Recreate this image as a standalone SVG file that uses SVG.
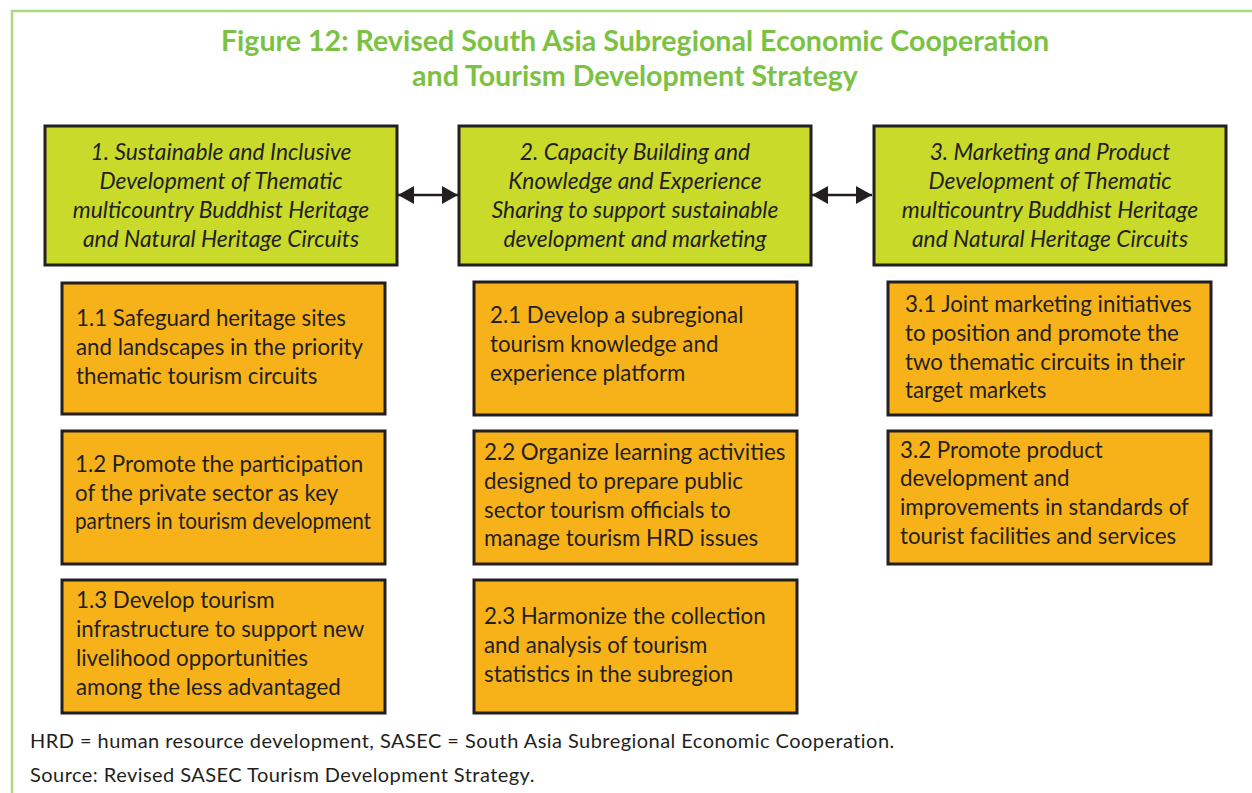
<svg xmlns="http://www.w3.org/2000/svg" width="1252" height="793" viewBox="0 0 1252 793">
<defs>
<style>
.frame{fill:none;stroke:#a9d97c;stroke-width:2.5}
.title{font-family:Lato,"Open Sans",sans-serif;font-weight:bold;font-size:28.6px;fill:#7cc242;text-anchor:middle}
.hbox{fill:#c9da2a;stroke:#231f20;stroke-width:3}
.obox{fill:#f8b219;stroke:#231f20;stroke-width:3}
.ht{font-family:Lato,"Open Sans",sans-serif;font-style:italic;font-size:22.8px;fill:#231f20;text-anchor:middle}
.ot{font-family:Lato,"Open Sans",sans-serif;font-size:22.3px;fill:#231f20}
.ft{font-family:Lato,"Open Sans",sans-serif;font-size:20px;letter-spacing:0.45px;fill:#231f20}
.conn{stroke:#231f20;stroke-width:2.5;fill:none}
</style>
<marker id="ah" viewBox="0 0 10 10" refX="10" refY="5" markerWidth="16" markerHeight="18" markerUnits="userSpaceOnUse" orient="auto-start-reverse" preserveAspectRatio="none">
<path d="M0,0 L10,5 L0,10 Z" fill="#231f20"/>
</marker>
</defs>
<rect width="1252" height="793" fill="#ffffff"/>
<path class="frame" d="M12,800 L12,11 L1252,11"/>
<g id="title">
<text class="title" x="635" y="51">Figure 12: Revised South Asia Subregional Economic Cooperation</text>
<text class="title" x="635" y="86">and Tourism Development Strategy</text>
</g>
<g id="connectors">
<line class="conn" x1="398" y1="195" x2="458" y2="195" marker-start="url(#ah)" marker-end="url(#ah)"/>
<line class="conn" x1="812" y1="195" x2="872" y2="195" marker-start="url(#ah)" marker-end="url(#ah)"/>
</g>
<g id="n1">
<rect class="hbox" x="45" y="126" width="352" height="139"/>
<text class="ht" x="221" y="160">1. Sustainable and Inclusive</text>
<text class="ht" x="221" y="189">Development of Thematic</text>
<text class="ht" x="221" y="218">multicountry Buddhist Heritage</text>
<text class="ht" x="221" y="247">and Natural Heritage Circuits</text>
</g>
<g id="n2">
<rect class="hbox" x="459" y="126" width="352" height="139"/>
<text class="ht" x="635" y="160">2. Capacity Building and</text>
<text class="ht" x="635" y="189">Knowledge and Experience</text>
<text class="ht" x="635" y="218">Sharing to support sustainable</text>
<text class="ht" x="635" y="247">development and marketing</text>
</g>
<g id="n3">
<rect class="hbox" x="874" y="126" width="352" height="139"/>
<text class="ht" x="1050" y="160">3. Marketing and Product</text>
<text class="ht" x="1050" y="189">Development of Thematic</text>
<text class="ht" x="1050" y="218">multicountry Buddhist Heritage</text>
<text class="ht" x="1050" y="247">and Natural Heritage Circuits</text>
</g>
<g id="n1-1">
<rect class="obox" x="62" y="283" width="323" height="131"/>
<text class="ot" x="76" y="326">1.1 Safeguard heritage sites</text>
<text class="ot" x="76" y="355">and landscapes in the priority</text>
<text class="ot" x="76" y="384">thematic tourism circuits</text>
</g>
<g id="n1-2">
<rect class="obox" x="62" y="431" width="323" height="133"/>
<text class="ot" x="75" y="472">1.2 Promote the participation</text>
<text class="ot" x="75" y="501">of the private sector as key</text>
<text class="ot" x="75" y="529" textLength="296" lengthAdjust="spacingAndGlyphs">partners in tourism development</text>
</g>
<g id="n1-3">
<rect class="obox" x="62" y="580" width="323" height="133"/>
<text class="ot" x="76" y="608">1.3 Develop tourism</text>
<text class="ot" x="76" y="637">infrastructure to support new</text>
<text class="ot" x="76" y="666">livelihood opportunities</text>
<text class="ot" x="76" y="695">among the less advantaged</text>
</g>
<g id="n2-1">
<rect class="obox" x="474" y="282" width="323" height="133"/>
<text class="ot" x="490" y="323">2.1 Develop a subregional</text>
<text class="ot" x="490" y="352">tourism knowledge and</text>
<text class="ot" x="490" y="381">experience platform</text>
</g>
<g id="n2-2">
<rect class="obox" x="474" y="431" width="323" height="133"/>
<text class="ot" x="484" y="460">2.2 Organize learning activities</text>
<text class="ot" x="484" y="489">designed to prepare public</text>
<text class="ot" x="484" y="518">sector tourism officials to</text>
<text class="ot" x="484" y="546">manage tourism HRD issues</text>
</g>
<g id="n2-3">
<rect class="obox" x="474" y="580" width="323" height="133"/>
<text class="ot" x="484" y="624">2.3 Harmonize the collection</text>
<text class="ot" x="484" y="653">and analysis of tourism</text>
<text class="ot" x="484" y="682">statistics in the subregion</text>
</g>
<g id="n3-1">
<rect class="obox" x="888" y="282" width="323" height="133"/>
<text class="ot" x="905" y="312">3.1 Joint marketing initiatives</text>
<text class="ot" x="905" y="341">to position and promote the</text>
<text class="ot" x="905" y="370">two thematic circuits in their</text>
<text class="ot" x="905" y="398">target markets</text>
</g>
<g id="n3-2">
<rect class="obox" x="888" y="431" width="323" height="133"/>
<text class="ot" x="900" y="458">3.2 Promote product</text>
<text class="ot" x="900" y="486">development and</text>
<text class="ot" x="900" y="515">improvements in standards of</text>
<text class="ot" x="900" y="544">tourist facilities and services</text>
</g>
<g id="footer">
<text class="ft" x="30" y="748">HRD = human resource development, SASEC = South Asia Subregional Economic Cooperation.</text>
<text class="ft" x="30" y="782">Source: Revised SASEC Tourism Development Strategy.</text>
</g>
</svg>
